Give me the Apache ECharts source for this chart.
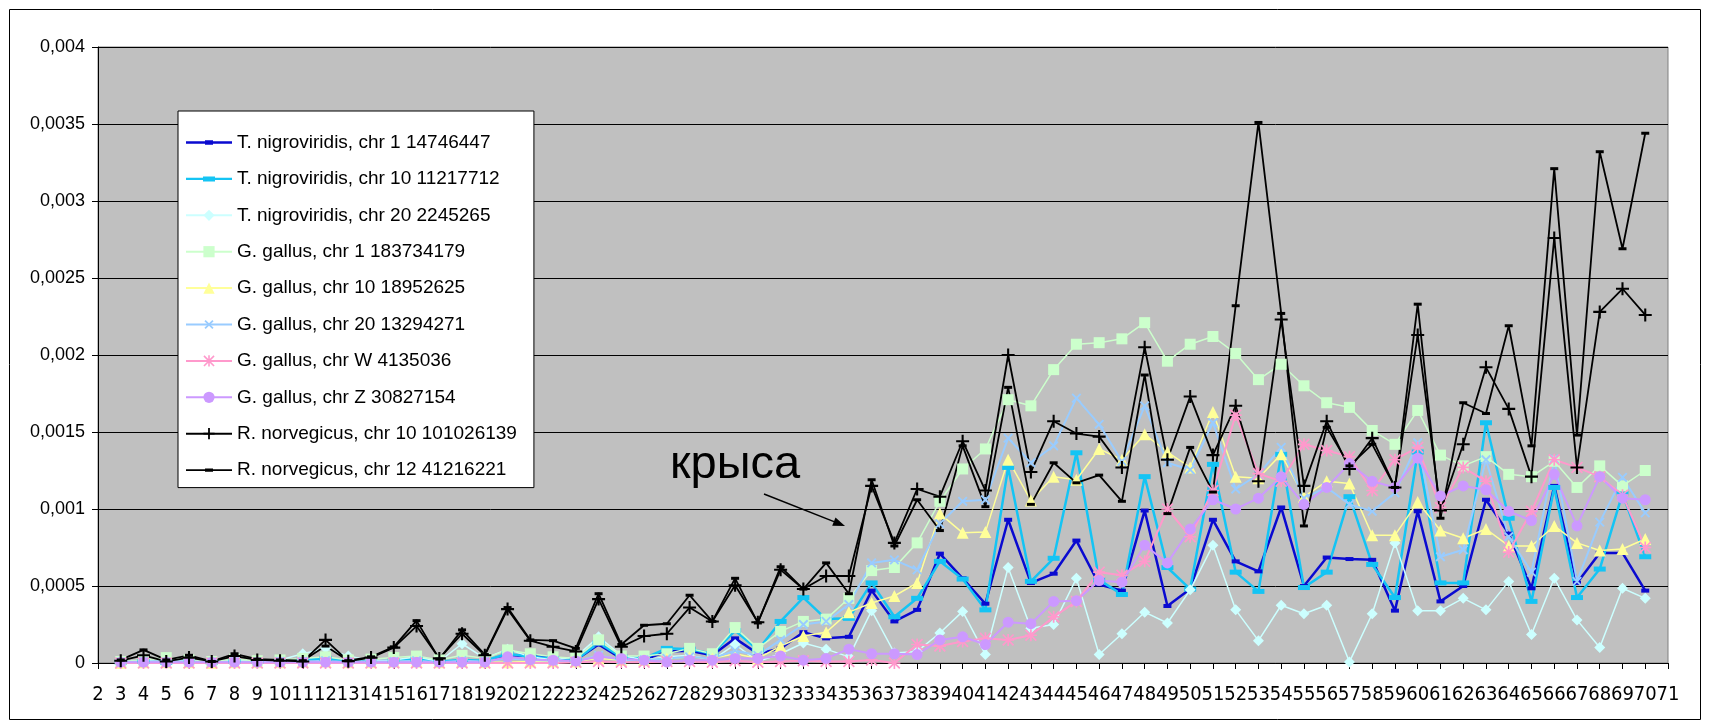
<!DOCTYPE html>
<html>
<head>
<meta charset="utf-8">
<title>Частота повторов по хромосомам</title>
<script src="https://cdn.jsdelivr.net/npm/echarts@6/dist/echarts.min.js"></script>
<style>
  html, body { margin: 0; padding: 0; background: #ffffff; }
  #chart { width: 1709px; height: 727px; }
</style>
</head>
<body>
<div id="chart"></div>
<script>
// Categories 2..71; values exist for 3..70
const categories = [];
for (let k = 2; k <= 71; k++) categories.push(String(k));

const seriesNames = [
  'T. nigroviridis, chr 1 14746447',
  'T. nigroviridis, chr 10 11217712',
  'T. nigroviridis, chr 20 2245265',
  'G. gallus, chr 1 183734179',
  'G. gallus, chr 10 18952625',
  'G. gallus, chr 20 13294271',
  'G. gallus, chr W 4135036',
  'G. gallus, chr Z 30827154',
  'R. norvegicus, chr 10 101026139',
  'R. norvegicus, chr 12 41216221'
];

const yTicks = [0, 0.0005, 0.001, 0.0015, 0.002, 0.0025, 0.003, 0.0035, 0.004];

const tnChr1 = [null,
  0.000005,0.00001,0.000005,0.00001,0.000005,0.00001,0.000005,0.00001,0.00001,0.00002,
  0.000005,0.00001,0.000015,0.00002,0.000005,0.000015,0.00001,0.00005,0.000045,0.000035,
  0.00002,0.00012,0.00003,0.00002,0.000075,0.00008,0.00005,0.00016,0.00006,0.000095,
  0.0002,0.00016,0.00017,0.00047,0.00027,0.000345,0.00071,0.00055,0.000385,0.00093,
  0.00052,0.00058,0.000795,0.00051,0.00047,0.00099,0.00037,0.00048,0.00093,0.00066,
  0.000595,0.00101,0.0005,0.000685,0.000675,0.00067,0.00034,0.000985,0.0004,0.0005,
  0.00106,0.00084,0.000485,0.00115,0.00052,0.000715,0.000715,0.00047,
  null];

const tnChr10 = [null,
  0.000005,0.00001,0.000005,0.00001,0.000005,0.00001,0.00001,0.00001,0.00002,0.00003,
  0.00001,0.00001,0.000015,0.000025,0.00001,0.00002,0.000015,0.00006,0.00004,0.00003,
  0.00002,0.00013,0.00004,0.00003,0.000095,0.00009,0.00006,0.00021,0.000085,0.00027,
  0.000425,0.000285,0.00029,0.00052,0.0003,0.00042,0.00066,0.000545,0.000345,0.00127,
  0.00053,0.00068,0.001365,0.00054,0.000445,0.00121,0.00062,0.00048,0.00129,0.00059,
  0.000465,0.001355,0.00049,0.00059,0.00108,0.00064,0.000425,0.00137,0.00052,0.00052,
  0.00156,0.00094,0.0004,0.00114,0.000425,0.00061,0.0011,0.00069,
  null];

const tnChr20 = [null,
  0.000005,0.000015,0.00001,0.000015,0.000005,0.00002,0.00001,0.00002,0.00006,0.000095,
  0.000045,0.000015,0.00002,0.00004,0.00001,0.000125,0.00003,0.00009,0.00004,0.00002,
  0.00004,0.00017,0.00005,0.00002,0.00004,0.00005,0.00002,0.00012,0.00001,0.00006,
  0.00013,0.00009,0.00004,0.00034,0.000065,0.000075,0.000195,0.000335,0.000055,0.00062,
  0.000225,0.00025,0.00055,0.000055,0.00019,0.00033,0.00026,0.000475,0.000765,0.000345,
  0.000145,0.000375,0.00032,0.000375,0.000007,0.00032,0.00078,0.00034,0.00034,0.00042,
  0.000345,0.00053,0.000185,0.00055,0.00028,0.0001,0.000485,0.00042,
  null];

const ggChr1 = [null,
  0.00001,0.00002,0.000035,0.00002,0.00001,0.000025,0.000015,0.00002,0.00003,0.00004,
  0.00002,0.000025,0.000035,0.000045,0.00002,0.00005,0.00003,0.000085,0.00006,0.00004,
  0.00003,0.00015,0.000045,0.000045,0.00006,0.000095,0.00006,0.00023,0.000095,0.000205,
  0.00027,0.000285,0.00042,0.0006,0.00062,0.00078,0.00105,0.00126,0.00139,0.00171,
  0.00167,0.001905,0.00207,0.00208,0.002105,0.00221,0.00196,0.00207,0.00212,0.00201,
  0.00184,0.00194,0.0018,0.00169,0.00166,0.00151,0.00142,0.00164,0.00135,0.00128,
  0.00134,0.001225,0.00121,0.00131,0.00114,0.00128,0.00115,0.00125,
  null];

const ggChr10 = [null,
  0,0.000005,0.000005,0.000005,0,0.000005,0.000005,0.000005,0.00001,0.00001,
  0.000005,0.000005,0.00001,0.00001,0.000005,0.00001,0.000005,0.000005,0.00001,0.00001,
  0.00001,0.00003,0.00002,0.00002,0.00003,0.00004,0.00003,0.00006,0.00003,0.00011,
  0.000175,0.0002,0.00033,0.00039,0.000435,0.00052,0.00097,0.000845,0.00085,0.00132,
  0.001055,0.00121,0.00119,0.00139,0.00132,0.001485,0.00137,0.00127,0.00163,0.00121,
  0.0012,0.001355,0.00108,0.00118,0.001165,0.00083,0.00083,0.001045,0.00086,0.00081,
  0.00087,0.00076,0.00076,0.00089,0.00078,0.00073,0.00074,0.000805,
  null];

const ggChr20 = [null,
  0.000005,0.00001,0.000005,0.00001,0.000005,0.00001,0.000005,0.00001,0.00001,0.000015,
  0.000005,0.00001,0.00001,0.000015,0.000005,0.000015,0.00001,0.00003,0.00002,0.000015,
  0.00001,0.00005,0.00002,0.00002,0.00003,0.00004,0.00003,0.00008,0.00005,0.00015,
  0.00025,0.00027,0.00038,0.00065,0.00067,0.000605,0.000905,0.00105,0.00106,0.00146,
  0.0013,0.00141,0.00172,0.00155,0.00131,0.00167,0.0013,0.001255,0.00156,0.00113,
  0.001225,0.0014,0.00107,0.00114,0.00103,0.000985,0.001105,0.00143,0.00069,0.000735,
  0.00132,0.00082,0.00059,0.001325,0.00053,0.000915,0.001205,0.000975,
  null];

const ggChrW = [null,
  0,0,0,0,0,0,0,0,0,0,
  0,0,0,0,0,0,0,0,0,0,
  0.000005,0.00001,0.000005,0.000005,0.00001,0.00001,0.000005,0.000015,0.000005,0.00001,
  0.000015,0.00001,0.00001,0.00002,0,0.00012,0.00011,0.00014,0.00016,0.00015,
  0.00018,0.0003,0.0004,0.00059,0.00057,0.00066,0.001,0.00082,0.00112,0.00161,
  0.00123,0.00118,0.00142,0.00138,0.00134,0.00112,0.00132,0.0014,0.00101,0.00127,
  0.00118,0.00072,0.000985,0.00132,0.00127,0.00121,0.00109,0.00075,
  null];

const ggChrZ = [null,
  0.000005,0.000005,0.000005,0.000005,0.000005,0.000005,0.000005,0.000005,0.000005,0.000005,
  0.000005,0.000005,0.000005,0.000005,0.000005,0.000005,0.000005,0.00004,0.000022,0.000018,
  0.000013,0.00004,0.00003,0.000018,0.000007,0.000018,0.000018,0.00003,0.00003,0.000045,
  0.000018,0.00003,0.00009,0.00006,0.00006,0.000055,0.00015,0.00017,0.00012,0.000265,
  0.000255,0.0004,0.000405,0.000535,0.000525,0.000765,0.00065,0.00087,0.00106,0.001,
  0.00107,0.00121,0.00103,0.00114,0.001295,0.00118,0.00114,0.00133,0.001085,0.00115,
  0.001125,0.000985,0.000925,0.001225,0.00089,0.00121,0.00107,0.00106,
  null];

const rnChr10 = [null,
  0.000015,0.00005,0.00001,0.000035,0.00001,0.000045,0.00002,0.000015,0.00001,0.00015,
  0.000012,0.000035,0.0001,0.00024,0.00003,0.00019,0.00005,0.00035,0.000145,0.000105,
  0.000075,0.000415,0.000105,0.000175,0.00019,0.00036,0.00027,0.000505,0.000265,0.000605,
  0.00048,0.000565,0.000565,0.00115,0.00078,0.00113,0.00108,0.00144,0.00112,0.002,
  0.00124,0.00157,0.00149,0.00147,0.00127,0.00205,0.00132,0.00173,0.00135,0.00167,
  0.00118,0.00223,0.00115,0.00157,0.00126,0.00146,0.00114,0.00213,0.00099,0.00142,
  0.00192,0.00165,0.00121,0.00276,0.00127,0.00228,0.00243,0.00226,
  null];

const rnChr12 = [null,
  0.00002,0.000085,0.00002,0.00005,0.00001,0.00006,0.000025,0.00002,0.000015,0.00011,
  0.000015,0.00004,0.000105,0.000275,0.000025,0.000215,0.000055,0.00036,0.00015,0.000145,
  0.000095,0.00045,0.00012,0.000245,0.000255,0.00044,0.00027,0.00055,0.00026,0.000625,
  0.00048,0.00065,0.00045,0.00119,0.00076,0.00106,0.00086,0.00141,0.001015,0.00179,
  0.00103,0.0013,0.00117,0.00122,0.00105,0.00187,0.00097,0.0014,0.00111,0.00232,
  0.00351,0.00227,0.00089,0.00153,0.00128,0.00142,0.00114,0.00233,0.00094,0.00169,
  0.00162,0.00219,0.00141,0.00321,0.00148,0.00332,0.00269,0.00344,
  null];

// Marker shapes
const PLUS = 'path://M0,4.2H10V5.8H0Z M4.2,0H5.8V10H4.2Z';
const STAR = 'path://M0,4.3H10V5.7H0Z M4.3,0H5.7V10H4.3Z M1,0L10,9L9,10L0,1Z M9,0L10,1L1,10L0,9Z';

// Legend icons (46 x 14 box) for the dash-marker series: line plus a short bar
const BOX = 'M0,0L0.01,0L0.01,0.01Z M46,14L45.99,14L45.99,13.99Z ';
const ICON_TN1 = 'path://' + BOX + 'M0,5.8H46V8.2H0Z M19,4.8H27V9.2H19Z';
const ICON_TN10 = 'path://' + BOX + 'M0,5.8H46V8.2H0Z M17,4.5H29V9.5H17Z';
const ICON_RN12 = 'path://' + BOX + 'M0,6.1H46V7.9H0Z M19,5.3H27V8.7H19Z';

const styles = [
  { data: tnChr1,  color: '#0a0ad0', width: 2.5, symbol: 'rect',    size: [8, 4],  icon: ICON_TN1 },
  { data: tnChr10, color: '#14c4f4', width: 2.5, symbol: 'rect',    size: [12, 5], icon: ICON_TN10 },
  { data: tnChr20, color: '#ccffff', width: 1.5, symbol: 'diamond', size: 11 },
  { data: ggChr1,  color: '#ccffcc', width: 1.5, symbol: 'rect',    size: 11 },
  { data: ggChr10, color: '#ffff99', width: 1.5, symbol: 'triangle',size: 12 },
  { data: ggChr20, color: '#99ccff', width: 2,   symbol: PLUS,      size: 12, rotate: 45 },
  { data: ggChrW,  color: '#ff99cc', width: 2,   symbol: STAR,      size: 12 },
  { data: ggChrZ,  color: '#cc99ff', width: 2,   symbol: 'circle',  size: 11 },
  { data: rnChr10, color: '#000000', width: 1.8, symbol: PLUS,      size: 13 },
  { data: rnChr12, color: '#000000', width: 1.8, symbol: 'rect',    size: [8, 3], icon: ICON_RN12 }
];

const series = styles.map((s, i) => ({
  name: seriesNames[i],
  type: 'line',
  data: s.data,
  symbol: s.symbol,
  symbolSize: s.size,
  symbolRotate: s.rotate || 0,
  showSymbol: true,
  showAllSymbol: true,
  connectNulls: false,
  lineStyle: { color: s.color, width: s.width },
  itemStyle: { color: s.color },
  emphasis: { disabled: true }
}));

const legendData = styles.map((s, i) => s.icon ? { name: seriesNames[i], icon: s.icon } : { name: seriesNames[i] });

const chart = echarts.init(document.getElementById('chart'), null, { renderer: 'canvas' });

const fmtY = v => v === 0 ? '0' : String(+v.toFixed(4)).replace('.', ',');

chart.setOption({
  animation: false,
  backgroundColor: '#ffffff',
  textStyle: { fontFamily: 'Liberation Sans, Arial, sans-serif' },
  grid: {
    left: 98, right: 41, top: 47, bottom: 64,
    show: true, backgroundColor: '#c0c0c0', borderColor: '#808080', borderWidth: 1
  },
  legend: {
    orient: 'vertical',
    left: 178, top: 111,
    padding: [22, 17, 8, 7],
    itemWidth: 46, itemHeight: 14, itemGap: 17.4,
    backgroundColor: '#ffffff', borderColor: '#000000', borderWidth: 1,
    textStyle: { fontSize: 19, color: '#000000', fontFamily: 'Liberation Sans, Arial, sans-serif' },
    selectedMode: false,
    data: legendData
  },
  xAxis: {
    type: 'category',
    data: categories,
    boundaryGap: false,
    axisLine: { lineStyle: { color: '#000000', width: 1 } },
    axisTick: { show: true, interval: 0, length: 6, lineStyle: { color: '#000000' } },
    axisLabel: {
      interval: 0, margin: 22, color: '#000000',
      fontSize: 20, fontFamily: 'Liberation Sans Narrow, DejaVu Sans Condensed, sans-serif'
    },
    splitLine: { show: false }
  },
  yAxis: {
    type: 'value',
    min: yTicks[0], max: yTicks[yTicks.length - 1], interval: 0.0005,
    axisLine: { show: true, lineStyle: { color: '#000000', width: 1 } },
    axisTick: { show: true, length: 6, lineStyle: { color: '#000000' } },
    axisLabel: { margin: 13, color: '#000000', fontSize: 18, formatter: fmtY },
    splitLine: { show: true, lineStyle: { color: '#000000', width: 1 } }
  },
  graphic: [
    { type: 'rect', shape: { x: 9.5, y: 9.5, width: 1691, height: 710 },
      style: { fill: 'none', stroke: '#000000', lineWidth: 1 }, silent: true, z: 100 },
    { type: 'text', x: 735, y: 465, z: 100, silent: true,
      style: { text: 'крыса', fill: '#000000', fontSize: 47,
               fontFamily: 'Liberation Sans, Arial, sans-serif', align: 'center', verticalAlign: 'middle' } },
    { type: 'line', z: 100, silent: true,
      shape: { x1: 764, y1: 494, x2: 834, y2: 521.6 },
      style: { stroke: '#000000', lineWidth: 1.5 } },
    { type: 'polygon', z: 100, silent: true,
      shape: { points: [[845, 526], [832.2, 525.8], [835.5, 517.4]] },
      style: { fill: '#000000' } }
  ],
  series: series
});
</script>
</body>
</html>
